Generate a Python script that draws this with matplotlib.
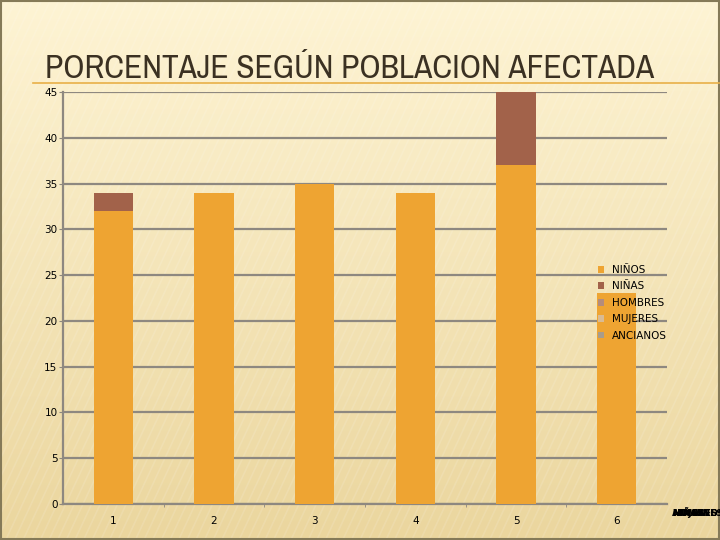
import numpy as np
import matplotlib
matplotlib.use('Agg')
import matplotlib.pyplot as plt
from matplotlib import font_manager

# Data
categories = ['1', '2', '3', '4', '5', '6']
series_names = ['NIÑOS', 'NIÑAS', 'HOMBRES', 'MUJERES', 'ANCIANOS']
ninos = [32, 34, 35, 34, 37, 23]
ninas = [2, 0, 0, 0, 8, 0]
hombres = [0, 0, 0, 0, 0, 0]
mujeres = [0, 0, 0, 0, 0, 0]
ancianos = [0, 0, 0, 0, 0, 0]
yticks = [0, 5, 10, 15, 20, 25, 30, 35, 40, 45]

colors = ['#EEA432', '#A2624A', '#B48C7C', '#D9BB94', '#A89C8C']
grid_color = '#8E8880'

names = sorted({f.name for f in font_manager.fontManager.ttflist})
narrow = [n for n in names if 'Narrow' in n or 'Condensed' in n]

fig = plt.figure(figsize=(7.2, 5.4), dpi=100)

# slide background: vertical gradient with faint diagonal stripes
bg = fig.add_axes([0, 0, 1, 1], zorder=-10)
top = np.array([254, 244, 212]) / 255
bot = np.array([235, 214, 158]) / 255
t = np.linspace(0, 1, 256)[:, None, None]
grad = top * (1 - t) + bot * t
grad = np.repeat(grad, 4, axis=1)
bg.imshow(grad, aspect='auto', extent=[0, 1, 0, 1], origin='upper')
for x0 in np.arange(-1.0, 1.2, 0.012):
    bg.plot([x0, x0 + 0.35], [0, 1], color='white', alpha=0.12, linewidth=1.2)
bg.set_xlim(0, 1)
bg.set_ylim(0, 1)
bg.axis('off')
# slide frame
for spine_xy in [([0.001, 0.999], [0.002, 0.002]), ([0.001, 0.999], [0.998, 0.998]),
                 ([0.001, 0.001], [0, 1]), ([0.999, 0.999], [0, 1])]:
    bg.plot(spine_xy[0], spine_xy[1], color='#857A58', linewidth=1.5)
# orange rule under the title
bg.plot([33 / 720, 1], [1 - 83 / 540, 1 - 83 / 540], color='#E8B048', linewidth=1.2)

title_fam = narrow[:1] + ['DejaVu Sans']
title = fig.text(45 / 720, 1 - 78 / 540, 'PORCENTAJE SEGÚN POBLACION AFECTADA',
                 fontsize=21, color='#3B3122', va='baseline', ha='left',
                 family=title_fam)
# fit the title to the reference width (45 px to 652 px)
fig.canvas.draw()
w = title.get_window_extent().width
title.set_fontsize(21 * 607 / w)

ax = fig.add_axes([63 / 720, 36 / 540, 604 / 720, 412 / 540])
ax.patch.set_alpha(0)

x = np.arange(len(categories))
bottom = np.zeros(len(categories))
for name, vals, col in zip(series_names, [ninos, ninas, hombres, mujeres, ancianos], colors):
    ax.bar(x, vals, width=0.39, bottom=bottom, color=col, label=name, zorder=3)
    bottom += np.array(vals)

ax.set_xlim(-0.5, len(categories) - 0.5)
ax.set_ylim(0, 45)
ax.set_yticks(yticks)
ax.set_xticks(x)
ax.set_xticklabels(categories)
ax.set_xticks(np.arange(0.5, len(categories) - 0.5, 1), minor=True)
ax.yaxis.grid(True, color=grid_color, linewidth=1.6, zorder=0)
ax.set_axisbelow(True)
for s in ['top', 'right']:
    ax.spines[s].set_visible(False)
for s in ['left', 'bottom']:
    ax.spines[s].set_color(grid_color)
    ax.spines[s].set_linewidth(1.6)
ax.tick_params(axis='y', length=3, color=grid_color, labelsize=7.5, pad=1)
ax.tick_params(axis='x', which='major', length=0, labelsize=7.5, pad=9)
ax.tick_params(axis='x', which='minor', length=2, color=grid_color)

leg = ax.legend(loc='upper left', bbox_to_anchor=(598 / 720, 1 - 265 / 540),
                bbox_transform=fig.transFigure, frameon=False, fontsize=7.5,
                handlelength=0.6, handleheight=0.6, handletextpad=0.7,
                labelspacing=0.62, borderpad=0, borderaxespad=0)

# overlapping series names at bottom right
for name in series_names:
    fig.text(672 / 720, 1 - 513 / 540, name, fontsize=6.5, fontweight='bold',
             color='black', va='center', ha='left')

fig.savefig('out.png', dpi=100)
